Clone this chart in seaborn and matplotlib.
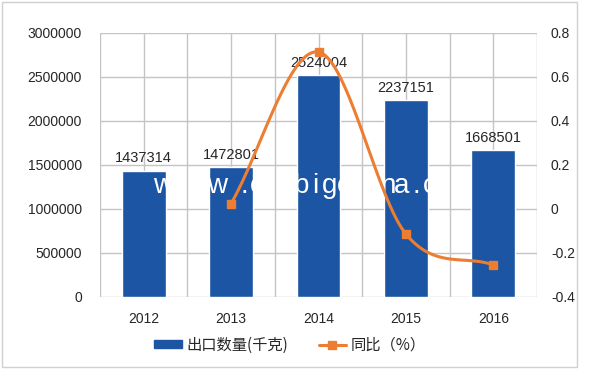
import numpy as np
import pandas as pd
import seaborn as sns
import matplotlib.pyplot as plt
from matplotlib.patches import Patch, Rectangle
from matplotlib.lines import Line2D

years = ["2012", "2013", "2014", "2015", "2016"]
export_qty = [1437314, 1472801, 2524004, 2237151, 1668501]
yoy_years = ["2013", "2014", "2015", "2016"]
yoy_pct = [0.0247, 0.7137, -0.1137, -0.2542]
watermark = "www.chnbigchina.com"

BAR_COLOR = "#1b55a3"
LINE_COLOR = "#ed7d31"
GRID_COLOR = "#c4c4c4"
TEXT_COLOR = "#262626"


def smooth_curve(xs, ys, n=40):
    # Excel-style smoothed line: cubic bezier with catmull-rom tangents
    xs = np.asarray(xs, float)
    ys = np.asarray(ys, float)
    pts = np.column_stack([xs, ys])
    out = []
    for i in range(len(pts) - 1):
        p0, p3 = pts[i], pts[i + 1]
        prev = pts[i - 1] if i > 0 else p0
        nxt = pts[i + 2] if i + 2 < len(pts) else p3
        c1 = p0 + (p3 - prev) / 6 if i > 0 else p0 + (p3 - p0) / 3
        c2 = p3 - (nxt - p0) / 6 if i + 2 < len(pts) else p3 - (p3 - p0) / 3
        t = np.linspace(0, 1, n)[:, None]
        seg = ((1 - t) ** 3) * p0 + 3 * ((1 - t) ** 2) * t * c1 + 3 * (1 - t) * t ** 2 * c2 + t ** 3 * p3
        out.append(seg if i == 0 else seg[1:])
    seg = np.vstack(out)
    return seg[:, 0], seg[:, 1]


def draw_watermark(ax):
    # white letters, only visible where they cross the bars -> clip each to its bar
    bars = list(ax.patches)
    x = 63.0
    for ch in watermark:
        frac = x / 437
        xd = -0.5 + frac * len(years)
        half = 9 / 437 * len(years)
        for bar in bars:
            if bar.get_x() - half < xd < bar.get_x() + bar.get_width() + half:
                t = ax.text(frac, 0.394, ch, transform=ax.transAxes, color="white", fontsize=20,
                            ha="center", va="baseline", family="Liberation Sans", zorder=4)
                t.set_clip_path(bar)
                break
        x += 27 if ch == "w" else (13 if ch == "." else 14.5)


def main():
    sns.set_style("white")
    plt.rcParams["font.family"] = ["Liberation Sans", "Noto Sans CJK SC", "DejaVu Sans"]

    fig = plt.figure(figsize=(6, 3.69), dpi=100)
    fig.patches.append(Rectangle((2 / 600, 2 / 369), 575 / 600, 365 / 369, transform=fig.transFigure,
                                 fill=False, edgecolor="#d0d0d0", linewidth=1))
    ax = fig.add_axes([100 / 600, 72 / 369, 437 / 600, 264 / 369])

    df = pd.DataFrame({"year": years, "qty": export_qty})
    sns.barplot(data=df, x="year", y="qty", color=BAR_COLOR, width=0.5, saturation=1, ax=ax, zorder=3)

    ax.set_xlim(-0.5, len(years) - 0.5)
    ax.set_ylim(0, 3000000)
    ax.set_yticks(np.arange(0, 3000001, 500000))
    ax.set_yticklabels([f"{int(v)}" for v in np.arange(0, 3000001, 500000)])
    ax.set_xticks(np.arange(-0.5, len(years), 0.5), minor=True)
    ax.grid(True, which="both", color=GRID_COLOR, linewidth=1, zorder=0)
    ax.set_axisbelow(True)
    ax.set_xlabel("")
    ax.set_ylabel("")
    for s in ax.spines.values():
        s.set_visible(False)
    ax.tick_params(axis="both", which="both", length=0, labelsize=10, labelcolor=TEXT_COLOR)
    ax.tick_params(axis="y", pad=13)
    ax.tick_params(axis="x", pad=11)

    for i, v in enumerate(export_qty):
        ax.text(i, v + 60000, f"{v}", ha="center", va="bottom", fontsize=10.5, color=TEXT_COLOR, zorder=4)

    draw_watermark(ax)

    ax2 = ax.twinx()
    xpos = [years.index(y) for y in yoy_years]
    cx, cy = smooth_curve(xpos, yoy_pct)
    sns.lineplot(x=cx, y=cy, sort=False, color=LINE_COLOR, linewidth=2.2, ax=ax2, zorder=5)
    ax2.plot(xpos, yoy_pct, linestyle="none", marker="s", markersize=6, color=LINE_COLOR, zorder=6)
    ax2.set_ylim(-0.4, 0.8)
    ax2.set_yticks(np.arange(-0.4, 0.81, 0.2))
    ax2.set_yticklabels(["-0.4", "-0.2", "0", "0.2", "0.4", "0.6", "0.8"])
    ax2.tick_params(axis="y", length=0, pad=10, labelsize=10, labelcolor=TEXT_COLOR)
    for s in ax2.spines.values():
        s.set_visible(False)
    ax2.grid(False)
    ax2.set_xlim(-0.5, len(years) - 0.5)

    handles = [
        Patch(facecolor=BAR_COLOR, edgecolor=BAR_COLOR),
        Line2D([0], [0], color=LINE_COLOR, linewidth=2.2, marker="s", markersize=6),
    ]
    fig.legend(handles, ["出口数量(千克)", "同比（%）"], loc="center", bbox_to_anchor=(290 / 600, 24 / 369),
               ncol=2, frameon=False, handlelength=1.8, handleheight=0.45,
               columnspacing=2.0, handletextpad=0.3, labelcolor=TEXT_COLOR,
               prop={"family": ["Noto Sans CJK SC", "DejaVu Sans"], "size": 11})

    fig.savefig("out.png", dpi=100)
    plt.close(fig)


if __name__ == "__main__":
    main()
